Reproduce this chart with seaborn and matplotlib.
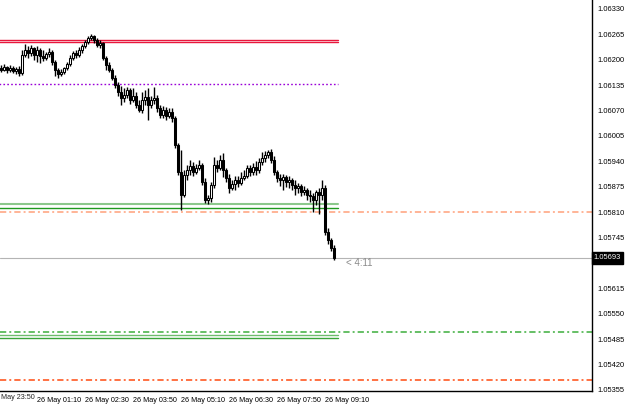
import matplotlib
matplotlib.use('Agg')
import matplotlib.pyplot as plt
import seaborn as sns
import numpy as np

# M5 bars, bar 0 = 26 May 00:10
opens = [1.06179, 1.06174, 1.06181, 1.06174, 1.06179, 1.06171, 1.06176, 1.06166, 1.06212, 1.06225,
         1.06217, 1.06230, 1.06212, 1.06225, 1.06210, 1.06205, 1.06215, 1.06220, 1.06194, 1.06174,
         1.06164, 1.06169, 1.06179, 1.06189, 1.06205, 1.06217, 1.06212, 1.06225, 1.06235, 1.06245,
         1.06256, 1.06261, 1.06251, 1.06238, 1.06243, 1.06205, 1.06187, 1.06174, 1.06153, 1.06135,
         1.06117, 1.06102, 1.06110, 1.06123, 1.06097, 1.06107, 1.06084, 1.06071, 1.06097, 1.06105,
         1.06084, 1.06097, 1.06102, 1.06077, 1.06059, 1.06071, 1.06056, 1.06066, 1.06051, 1.05982,
         1.05913, 1.05854, 1.05905, 1.05918, 1.05928, 1.05913, 1.05923, 1.05931, 1.05887, 1.05841,
         1.05846, 1.05879, 1.05931, 1.05923, 1.05943, 1.05918, 1.05897, 1.05872, 1.05882, 1.05892,
         1.05885, 1.05897, 1.05902, 1.05923, 1.05913, 1.05925, 1.05918, 1.05938, 1.05949, 1.05956,
         1.05964, 1.05943, 1.05913, 1.05897, 1.05892, 1.05900, 1.05887, 1.05892, 1.05879, 1.05872,
         1.05877, 1.05861, 1.05867, 1.05854, 1.05851, 1.05841, 1.05861, 1.05854, 1.05872, 1.05759,
         1.05739, 1.05718]
highs = [1.06187, 1.06189, 1.06184, 1.06187, 1.06184, 1.06181, 1.06184, 1.06225, 1.06240, 1.06235,
         1.06238, 1.06233, 1.06235, 1.06230, 1.06225, 1.06220, 1.06230, 1.06225, 1.06199, 1.06179,
         1.06176, 1.06181, 1.06194, 1.06212, 1.06222, 1.06225, 1.06233, 1.06240, 1.06251, 1.06261,
         1.06266, 1.06263, 1.06256, 1.06251, 1.06245, 1.06210, 1.06194, 1.06179, 1.06161, 1.06143,
         1.06133, 1.06128, 1.06130, 1.06128, 1.06128, 1.06117, 1.06097, 1.06117, 1.06123, 1.06128,
         1.06107, 1.06130, 1.06110, 1.06084, 1.06082, 1.06079, 1.06077, 1.06077, 1.06056, 1.05987,
         1.05969, 1.05918, 1.05931, 1.05943, 1.05938, 1.05933, 1.05943, 1.05936, 1.05897, 1.05854,
         1.05887, 1.05951, 1.05943, 1.05956, 1.05961, 1.05923, 1.05908, 1.05892, 1.05902, 1.05902,
         1.05913, 1.05918, 1.05931, 1.05931, 1.05936, 1.05941, 1.05949, 1.05964, 1.05966, 1.05969,
         1.05972, 1.05954, 1.05918, 1.05908, 1.05908, 1.05905, 1.05902, 1.05897, 1.05892, 1.05885,
         1.05882, 1.05877, 1.05872, 1.05867, 1.05859, 1.05867, 1.05872, 1.05892, 1.05879, 1.05769,
         1.05744, 1.05726]
lows = [1.06169, 1.06171, 1.06166, 1.06169, 1.06166, 1.06164, 1.06158, 1.06161, 1.06207, 1.06205,
        1.06210, 1.06199, 1.06194, 1.06192, 1.06197, 1.06199, 1.06207, 1.06187, 1.06158, 1.06153,
        1.06158, 1.06164, 1.06174, 1.06184, 1.06199, 1.06205, 1.06207, 1.06217, 1.06230, 1.06240,
        1.06251, 1.06243, 1.06233, 1.06230, 1.06199, 1.06174, 1.06169, 1.06148, 1.06128, 1.06107,
        1.06084, 1.06092, 1.06102, 1.06087, 1.06092, 1.06077, 1.06066, 1.06064, 1.06084, 1.06046,
        1.06077, 1.06087, 1.06066, 1.06051, 1.06051, 1.06046, 1.06051, 1.06041, 1.05974, 1.05905,
        1.05815, 1.05849, 1.05892, 1.05905, 1.05902, 1.05908, 1.05918, 1.05879, 1.05833, 1.05831,
        1.05836, 1.05872, 1.05913, 1.05918, 1.05900, 1.05887, 1.05859, 1.05867, 1.05867, 1.05874,
        1.05879, 1.05892, 1.05897, 1.05902, 1.05905, 1.05905, 1.05910, 1.05931, 1.05938, 1.05949,
        1.05936, 1.05905, 1.05887, 1.05877, 1.05867, 1.05874, 1.05872, 1.05867, 1.05854, 1.05859,
        1.05851, 1.05854, 1.05841, 1.05836, 1.05810, 1.05828, 1.05805, 1.05841, 1.05751, 1.05728,
        1.05710, 1.05687]
closes = [1.06174, 1.06181, 1.06174, 1.06179, 1.06171, 1.06176, 1.06166, 1.06212, 1.06225, 1.06217,
          1.06230, 1.06212, 1.06225, 1.06210, 1.06205, 1.06215, 1.06220, 1.06194, 1.06174, 1.06164,
          1.06169, 1.06179, 1.06189, 1.06205, 1.06217, 1.06212, 1.06225, 1.06235, 1.06245, 1.06256,
          1.06261, 1.06251, 1.06238, 1.06243, 1.06205, 1.06187, 1.06174, 1.06153, 1.06135, 1.06117,
          1.06102, 1.06110, 1.06123, 1.06097, 1.06107, 1.06084, 1.06071, 1.06097, 1.06105, 1.06084,
          1.06097, 1.06102, 1.06077, 1.06059, 1.06071, 1.06056, 1.06066, 1.06051, 1.05982, 1.05913,
          1.05854, 1.05905, 1.05918, 1.05928, 1.05913, 1.05923, 1.05931, 1.05887, 1.05841, 1.05846,
          1.05879, 1.05931, 1.05923, 1.05943, 1.05918, 1.05897, 1.05872, 1.05882, 1.05892, 1.05885,
          1.05897, 1.05902, 1.05923, 1.05913, 1.05925, 1.05918, 1.05938, 1.05949, 1.05956, 1.05964,
          1.05943, 1.05913, 1.05897, 1.05892, 1.05900, 1.05887, 1.05892, 1.05879, 1.05872, 1.05877,
          1.05861, 1.05867, 1.05854, 1.05851, 1.05841, 1.05861, 1.05854, 1.05872, 1.05759, 1.05739,
          1.05718, 1.05693]

tick_bars = [12, 28, 44, 60, 76, 92, 108]
tick_labels = ['26 May 01:10', '26 May 02:30', '26 May 03:50', '26 May 05:10',
               '26 May 06:30', '26 May 07:50', '26 May 09:10']
first_label_bar = -4
first_label = '25 May 23:50'

price_ticks = [1.05355, 1.05420, 1.05485, 1.05550, 1.05615, 1.05680, 1.05745, 1.05810,
               1.05875, 1.05940, 1.06005, 1.06070, 1.06135, 1.06200, 1.06265, 1.06330]

# short levels (drawn up to the last bar) and full-width levels
short_levels = [1.06251, 1.06245, 1.06138, 1.05831, 1.05821, 1.05495, 1.05488]
short_colors = ['#e8163c', '#e8163c', '#9a00d8', '#8cc88c', '#1f9a1f', '#6cbc6c', '#3aa53a']
short_styles = ['solid', 'solid', 'dotted', 'solid', 'solid', 'solid', 'solid']
full_levels = [1.05810, 1.05503, 1.05380]
full_colors = ['#ffa07a', '#3cae3c', '#ff4a10']
last_price = 1.05693
timer_text = '< 4:11'

sns.set_theme(style='white')
plt.rcParams['font.family'] = ['Liberation Sans', 'DejaVu Sans']
plt.rcParams['lines.scale_dashes'] = False

fig = plt.figure(figsize=(6.25, 4.07), dpi=100)
ax = fig.add_axes([0, 1 - 391 / 407, 592 / 625, 391 / 407])

o = np.array(opens)
c = np.array(closes)
h = np.array(highs)
l = np.array(lows)
x = np.arange(len(c))
up = c >= o
bottom = np.minimum(o, c)
height = np.maximum(np.abs(c - o), 0.000015)

ax.vlines(x, l, h, color='black', lw=1.0, zorder=3)
ax.bar(x[up], height[up], bottom=bottom[up], width=0.7, color='white',
       edgecolor='black', linewidth=0.75, zorder=4)
ax.bar(x[~up], height[~up], bottom=bottom[~up], width=0.7, color='black',
       edgecolor='black', linewidth=0.75, zorder=4)

x_end = len(c) + 0.3
dash = {'solid': '-', 'dotted': (0, (1.2, 1.6))}
for lev, col, st in zip(short_levels, short_colors, short_styles):
    lw = 1.5 if col == '#8cc88c' else 1.0
    ax.plot([-1, x_end], [lev, lev], color=col, lw=lw, ls=dash[st], zorder=2)
for lev, col in zip(full_levels, full_colors):
    ax.axhline(lev, color=col, lw=1.1, ls=(0, (4.5, 2.2, 1.4, 2.2)), zorder=2)
ax.axhline(last_price, color='#b4b4b4', lw=0.8, zorder=1)

ax.set_xlim(-1 / 3, 592 / 3 - 1 / 3)
ax.set_ylim(1.05352, 1.06353)

ax.yaxis.tick_right()
ax.set_yticks(price_ticks)
ax.set_yticklabels([f'{v:.5f}' for v in price_ticks])
ax.set_xticks(tick_bars)
ax.set_xticklabels(tick_labels)
ax.tick_params(axis='y', direction='out', length=3, width=0.8, color='black',
               labelsize=5.4, labelcolor='black', pad=1.2)
ax.tick_params(axis='x', direction='out', length=3, width=0.8, color='black',
               labelsize=5.2, labelcolor='black', pad=1.0)
for lab in ax.get_xticklabels():
    lab.set_ha('left')
ax.text(first_label_bar + 0.5, -0.0075, first_label, transform=ax.get_xaxis_transform(),
        ha='left', va='top', fontsize=5.2, clip_on=False)

sns.despine(ax=ax, left=True, top=True, right=False, bottom=False)
for side in ['right', 'bottom']:
    ax.spines[side].set_color('black')
    ax.spines[side].set_linewidth(1.0)

ax.text(1.003, last_price, '1.05693', transform=ax.get_yaxis_transform(), ha='left',
        va='center', fontsize=5.4, color='white', zorder=10, clip_on=False,
        bbox=dict(boxstyle='square,pad=0.3', fc='black', ec='black'))
ax.text(len(c) + 3.0, 1.05680, timer_text, ha='left', va='center', fontsize=7,
        color='#8a8a8a')

fig.savefig('out.png', dpi=100)
